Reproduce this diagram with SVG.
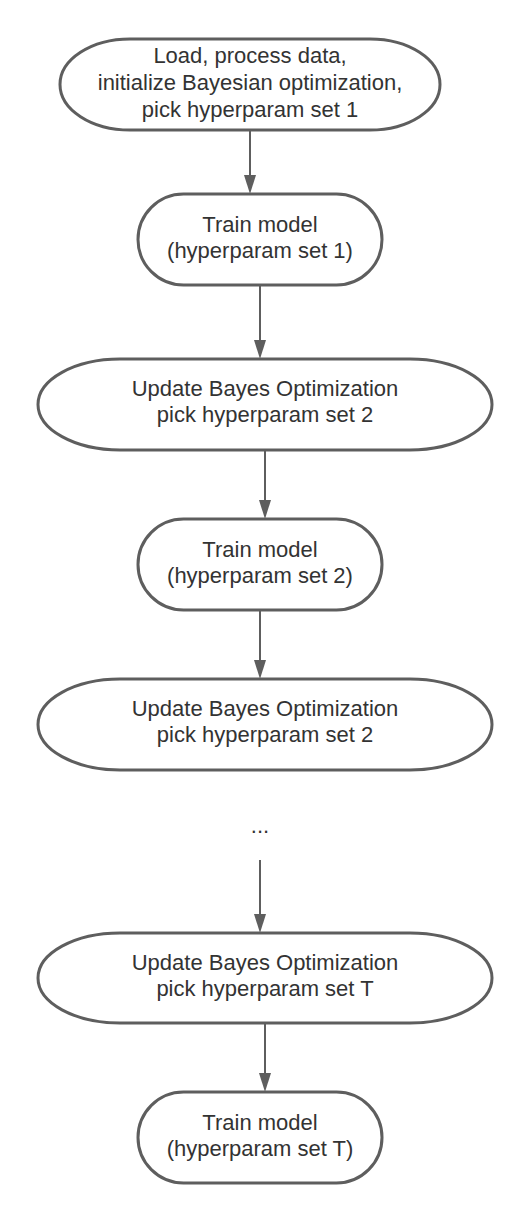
<svg xmlns="http://www.w3.org/2000/svg" width="530" height="1224" viewBox="0 0 530 1224">
<style>
.n{fill:#ffffff;stroke:#5e5e5e;stroke-width:3}
.t{font-family:"Liberation Sans",Arial,sans-serif;font-size:22px;fill:#333333;text-anchor:middle}
.c{stroke:#5e5e5e;stroke-width:2;fill:none;marker-end:url(#ah)}
</style>
<defs>
<marker id="ah" markerUnits="userSpaceOnUse" markerWidth="19" markerHeight="12" viewBox="0 0 19 12" refX="11" refY="6" orient="auto">
<path d="M0,0 L19,6 L0,12 Z" fill="#5e5e5e"/>
</marker>
</defs>
<rect width="530" height="1224" fill="#ffffff"/>
<g id="connectors">
<path class="c" d="M250,131 V186"/>
<path class="c" d="M260,286 V351"/>
<path class="c" d="M265,451 V511"/>
<path class="c" d="M260,611 V671"/>
<path class="c" d="M260,860 V925"/>
<path class="c" d="M265,1024 V1084"/>
</g>
<g id="node1">
<rect class="n" x="60" y="39" width="380" height="91" rx="70" ry="45.5"/>
<text class="t" x="250" y="63">Load, process data,</text>
<text class="t" x="250" y="90">initialize Bayesian optimization,</text>
<text class="t" x="250" y="117">pick hyperparam set 1</text>
</g>
<g id="node2">
<rect class="n" x="138" y="194" width="244" height="91" rx="45.5" ry="45.5"/>
<text class="t" x="260" y="232">Train model</text>
<text class="t" x="260" y="258">(hyperparam set 1)</text>
</g>
<g id="node3">
<rect class="n" x="38" y="359" width="454" height="91" rx="82" ry="45.5"/>
<text class="t" x="265" y="396">Update Bayes Optimization</text>
<text class="t" x="265" y="422">pick hyperparam set 2</text>
</g>
<g id="node4">
<rect class="n" x="138" y="519" width="244" height="91" rx="45.5" ry="45.5"/>
<text class="t" x="260" y="557">Train model</text>
<text class="t" x="260" y="583">(hyperparam set 2)</text>
</g>
<g id="node5">
<rect class="n" x="38" y="679" width="454" height="91" rx="82" ry="45.5"/>
<text class="t" x="265" y="716">Update Bayes Optimization</text>
<text class="t" x="265" y="742">pick hyperparam set 2</text>
</g>
<g id="ellipsis">
<text class="t" x="260" y="833">...</text>
</g>
<g id="node6">
<rect class="n" x="38" y="933" width="454" height="90" rx="82" ry="45"/>
<text class="t" x="265" y="970">Update Bayes Optimization</text>
<text class="t" x="265" y="996">pick hyperparam set T</text>
</g>
<g id="node7">
<rect class="n" x="138" y="1092" width="244" height="91" rx="45.5" ry="45.5"/>
<text class="t" x="260" y="1130">Train model</text>
<text class="t" x="260" y="1156">(hyperparam set T)</text>
</g>
</svg>
